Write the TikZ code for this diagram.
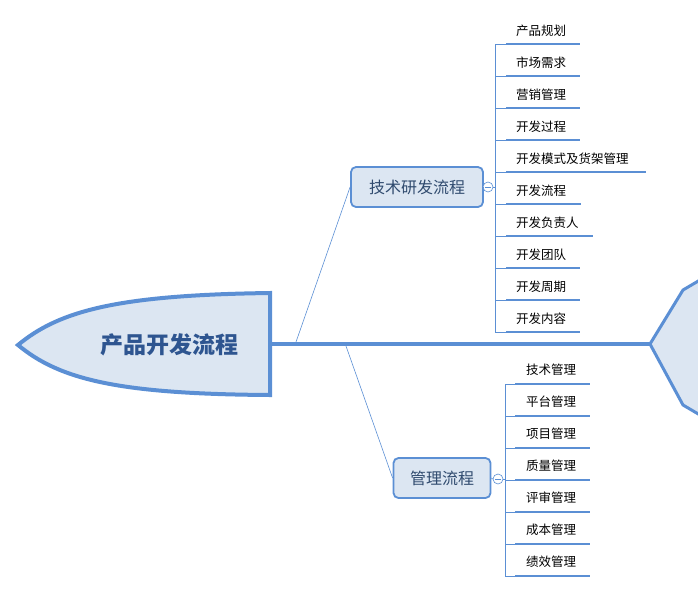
\documentclass[tikz,border=0pt]{standalone}
\usepackage{fontspec}
\setmainfont{Noto Sans CJK SC}
\begin{document}
\begin{tikzpicture}[x=1pt,y=-1pt,
  blue/.style={draw=mblue},
  topic/.style={draw=mblue,fill=mfill,rounded corners=5pt,line width=1.8pt,inner sep=0pt,font=\fontsize{16}{18}\selectfont,text=mtext},
  item/.style={font=\fontsize{12.5}{14}\selectfont,anchor=west,inner sep=0pt},
  uline/.style={draw=mblue,line width=2.2pt},
  thin/.style={draw=mblue,line width=0.6pt}]
\definecolor{mblue}{HTML}{5B8FD4}
\definecolor{mfill}{HTML}{DCE6F2}
\definecolor{mtext}{HTML}{2F4A6E}
\definecolor{mtitle}{HTML}{2E5590}
\useasboundingbox (0,0) rectangle (698,592);
% spine
\coordinate (s0) at (270,344);
\coordinate (s1) at (652,344);
\draw[mblue,line width=4pt] (s0) -- (s1);
% head
\draw[mblue,line width=4pt,fill=mfill] (270,293) .. controls (120,295) and (60,310) .. (18,345) .. controls (60,380) and (120,394) .. (270,395) -- cycle;
\node[font=\fontsize{23}{26}\selectfont\bfseries,text=mtitle] (title) at (169,345) {产品开发流程};
% tail
\draw[mblue,line width=3pt,fill=mfill] (700,280) -- (683,290) -- (650,344) -- (683,405) -- (700,415);
% upper topic
\node[topic,minimum width=132pt,minimum height=40pt] (t1) at (417,187) {技术研发流程};
\coordinate (a1) at (296,342);
\draw[thin] (a1) -- (t1.west);
\node[draw=mblue,circle,minimum size=10pt,inner sep=0pt,fill=white,line width=0.6pt] (c1) at (488,187) {};
\draw[mblue,line width=0.6pt] (485,187) -- (491,187);
\draw[thin] (t1.east) -- (c1.west);
\draw[thin] (c1.east) -- (495,187);
\draw[thin] (495,44) -- (495,332);
\foreach \t/\e [count=\i from 0] in {产品规划/580,市场需求/580,营销管理/580,开发过程/580,开发模式及货架管理/646,开发流程/581,开发负责人/593,开发团队/580,开发周期/580,开发内容/580}{
  \pgfmathsetmacro\yy{31+32*\i}
  \node[item] (u\i) at (516,\yy) {\t};
  \draw[thin] (495,\yy+13) -- (506,\yy+13);
  \draw[uline] (506,\yy+13) -- (\e,\yy+13);
}
% lower topic
\node[topic,minimum width=97pt,minimum height=40pt] (t2) at (442,478) {管理流程};
\coordinate (a2) at (346,346);
\draw[thin] (a2) -- (t2.west);
\node[draw=mblue,circle,minimum size=10pt,inner sep=0pt,fill=white,line width=0.6pt] (c2) at (498,479) {};
\draw[mblue,line width=0.6pt] (495,479) -- (501,479);
\draw[thin] (t2.east) -- (c2.west);
\draw[thin] (c2.east) -- (505,479);
\draw[thin] (505,384) -- (505,576);
\foreach \t [count=\i from 0] in {技术管理,平台管理,项目管理,质量管理,评审管理,成本管理,绩效管理}{
  \pgfmathsetmacro\yy{370+32*\i}
  \node[item,anchor=center] (v\i) at (551,\yy) {\t};
  \draw[thin] (505,\yy+14) -- (515,\yy+14);
  \draw[uline] (515,\yy+14) -- (590,\yy+14);
}
\end{tikzpicture}
\end{document}
